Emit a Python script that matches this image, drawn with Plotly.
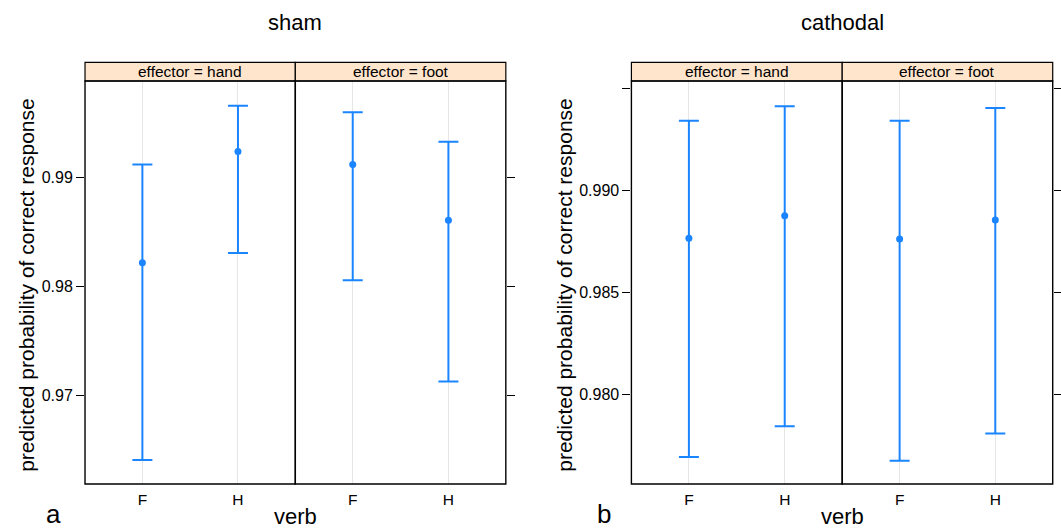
import plotly.graph_objects as go

# ---- data ----
verbs = ["F", "H"]
effectors = ["hand", "foot"]

sham_hand_est = [0.9822, 0.9924]
sham_hand_lo = [0.9641, 0.9831]
sham_hand_hi = [0.9912, 0.9966]
sham_foot_est = [0.9912, 0.9861]
sham_foot_lo = [0.9806, 0.9713]
sham_foot_hi = [0.9960, 0.9933]

cath_hand_est = [0.98766, 0.98877]
cath_hand_lo = [0.97694, 0.97844]
cath_hand_hi = [0.99343, 0.99414]
cath_foot_est = [0.98763, 0.98856]
cath_foot_lo = [0.97675, 0.97809]
cath_foot_hi = [0.99343, 0.99405]

sham_ticks = [0.97, 0.98, 0.99]
sham_ticktext = ["0.97", "0.98", "0.99"]
cath_ticks = [0.980, 0.985, 0.990, 0.995]
cath_ticktext = ["0.980", "0.985", "0.990", ""]

sham_range = [0.9619, 0.99887]
cath_range = [0.97561, 0.99538]

panel_titles = ["sham", "cathodal"]
panel_letters = ["a", "b"]
ytitle = "predicted probability of correct response"
xtitle = "verb"

# ---- layout geometry (pixels of the window) ----
W, H = 1061, 530
FONT = "Liberation Sans, Arial, Helvetica, sans-serif"
BLUE = "#1a85ff"

def px(x):
    return x / W

def py(y):
    return 1 - y / H

top, bottom, strip_top = 81, 484, 62.3
facets = [(85.5, 297), (297, 508.7), (635, 847), (847, 1058.7)]

fig = go.Figure()

data = [
    (sham_hand_est, sham_hand_lo, sham_hand_hi),
    (sham_foot_est, sham_foot_lo, sham_foot_hi),
    (cath_hand_est, cath_hand_lo, cath_hand_hi),
    (cath_foot_est, cath_foot_lo, cath_foot_hi),
]

xpos = [1, 2]
for i, (est, lo, hi) in enumerate(data):
    k = "" if i == 0 else str(i + 1)
    fig.add_trace(go.Scatter(
        x=xpos, y=est, mode="markers",
        marker=dict(color=BLUE, size=7),
        error_y=dict(type="data", symmetric=False,
                     array=[h - e for h, e in zip(hi, est)],
                     arrayminus=[e - l for e, l in zip(est, lo)],
                     color=BLUE, thickness=2, width=10),
        xaxis="x" + k, yaxis="y" + k, showlegend=False, hoverinfo="skip",
    ))

layout = dict(
    width=W, height=H, margin=dict(l=0, r=0, t=0, b=0),
    paper_bgcolor="white", plot_bgcolor="white",
    font=dict(family=FONT, color="#000000"),
    showlegend=False,
)

for i, (x0, x1) in enumerate(facets):
    k = "" if i == 0 else str(i + 1)
    layout["xaxis" + k] = dict(
        domain=[px(x0), px(x1)], range=[0.4, 2.6],
        tickvals=xpos, ticktext=verbs, tickfont=dict(size=15.5),
        ticks="outside", ticklen=1, tickcolor="rgba(0,0,0,0)",
        showgrid=True, gridcolor="#e6e6e6", gridwidth=1,
        zeroline=False, showline=False,
        anchor="y" + k, fixedrange=True,
    )
    is_sham = i < 2
    rng = sham_range if is_sham else cath_range
    tv = sham_ticks if is_sham else cath_ticks
    tt = sham_ticktext if is_sham else cath_ticktext
    left = (i % 2 == 0)
    layout["yaxis" + k] = dict(
        domain=[py(bottom), py(top)], range=rng,
        tickvals=tv, ticktext=tt, tickfont=dict(size=16),
        ticks="outside", ticklen=8, tickwidth=1, tickcolor="#000000",
        side="left" if left else "right",
        showticklabels=left, showgrid=False, zeroline=False, showline=False,
        anchor="x" + k, fixedrange=True,
    )

fig.update_layout(**layout)

shapes = []
annotations = []
strip_labels = ["effector = " + e for e in effectors] * 2
for i, (x0, x1) in enumerate(facets):
    shapes.append(dict(type="rect", xref="paper", yref="paper",
                       x0=px(x0), x1=px(x1), y0=py(top), y1=py(strip_top),
                       fillcolor="#ffe5cc", line=dict(color="#000000", width=1.2)))
    shapes.append(dict(type="rect", xref="paper", yref="paper",
                       x0=px(x0), x1=px(x1), y0=py(bottom), y1=py(top),
                       fillcolor="rgba(0,0,0,0)", line=dict(color="#000000", width=1.4)))
    annotations.append(dict(text=strip_labels[i], xref="paper", yref="paper",
                            x=px((x0 + x1) / 2), y=py((strip_top + top) / 2),
                            showarrow=False, font=dict(size=15.5),
                            xanchor="center", yanchor="middle"))

centers = [297, 847]
ytitle_x = [26, 567]
letter_x = [54, 607]
for j in range(2):
    annotations.append(dict(text=panel_titles[j], xref="paper", yref="paper",
                            x=px(centers[j]), y=py(23), showarrow=False,
                            font=dict(size=22), xanchor="center", yanchor="middle"))
    annotations.append(dict(text=xtitle, xref="paper", yref="paper",
                            x=px(centers[j]), y=py(516), showarrow=False,
                            font=dict(size=22), xanchor="center", yanchor="middle"))
    annotations.append(dict(text=panel_letters[j], xref="paper", yref="paper",
                            x=px(letter_x[j]), y=py(514), showarrow=False,
                            font=dict(size=26), xanchor="center", yanchor="middle"))
    annotations.append(dict(text=ytitle, xref="paper", yref="paper",
                            x=px(ytitle_x[j]), y=py(285), showarrow=False,
                            textangle=-90, font=dict(size=21),
                            xanchor="center", yanchor="middle"))

fig.update_layout(shapes=shapes, annotations=annotations)
fig.write_html(
    "out.html",
    config={"displayModeBar": False, "staticPlot": True},
    post_script="document.body.style.margin='0';document.body.style.overflow='hidden';",
)
